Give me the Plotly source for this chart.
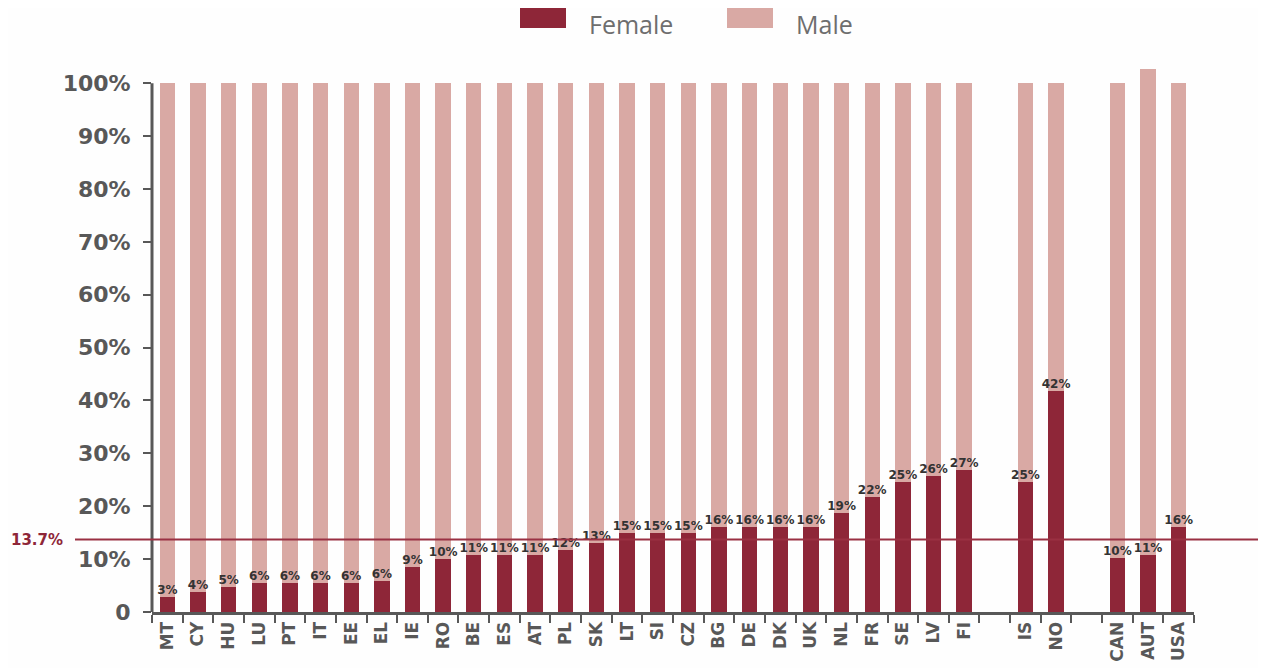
import plotly.graph_objects as go

# ---- data ----
countries = ["MT", "CY", "HU", "LU", "PT", "IT", "EE", "EL", "IE", "RO", "BE", "ES", "AT",
             "PL", "SK", "LT", "SI", "CZ", "BG", "DE", "DK", "UK", "NL", "FR", "SE", "LV", "FI",
             " ", "IS", "NO", "  ", "CAN", "AUT", "USA"]
female = [2.8, 3.8, 4.7, 5.5, 5.5, 5.5, 5.5, 5.8, 8.6, 10.0, 10.8, 10.8, 10.8,
          11.8, 13.0, 15.0, 15.0, 15.0, 16.0, 16.0, 16.0, 16.0, 18.8, 21.8, 24.6, 25.8, 26.8,
          None, 24.6, 41.8, None, 10.2, 10.8, 16.0]
male = [97.2, 96.2, 95.3, 94.5, 94.5, 94.5, 94.5, 94.2, 91.4, 90.0, 89.2, 89.2, 89.2,
        88.2, 87.0, 85.0, 85.0, 85.0, 84.0, 84.0, 84.0, 84.0, 81.2, 78.2, 75.4, 74.2, 73.2,
        None, 75.4, 58.2, None, 89.8, 91.8, 84.0]
female_labels = ["3%", "4%", "5%", "6%", "6%", "6%", "6%", "6%", "9%", "10%", "11%", "11%", "11%",
                 "12%", "13%", "15%", "15%", "15%", "16%", "16%", "16%", "16%", "19%", "22%", "25%", "26%", "27%",
                 "", "25%", "42%", "", "10%", "11%", "16%"]
average = 13.7
y_ticks = [0, 10, 20, 30, 40, 50, 60, 70, 80, 90, 100]
y_tick_labels = ["0", "10%", "20%", "30%", "40%", "50%", "60%", "70%", "80%", "90%", "100%"]

FEMALE_C = "#8E2638"
MALE_C = "#D9A9A4"
AXIS_C = "#585858"

fig = go.Figure()
fig.add_trace(go.Bar(x=countries, y=female, name="Female", marker_color=FEMALE_C,
                     marker_line_width=0, showlegend=False))
fig.add_trace(go.Bar(x=countries, y=male, name="Male", marker_color=MALE_C,
                     marker_line_width=0, showlegend=False))
fig.add_trace(go.Scatter(x=countries, y=female, mode="text", text=female_labels,
                         textposition="top center",
                         textfont=dict(family="DejaVu Sans", size=12, color="#333333", weight="bold"),
                         showlegend=False, hoverinfo="skip", cliponaxis=False))

# page has an 8px body margin
OFF = 8
W, H = 1258, 660
L, R, T, B = 144, 72, 54, 56
pw = W - L - R
ph = H - T - B

def px(x):
    return (x - OFF - L) / pw

def py(y):
    return (H - B - (y - OFF)) / ph

shapes = [
    # y axis line 0..100
    dict(type="line", xref="paper", yref="y", x0=0, x1=0, y0=0, y1=100,
         line=dict(color=AXIS_C, width=3)),
    # average line
    dict(type="line", xref="paper", yref="y", x0=px(75), x1=px(1266), y0=average, y1=average,
         line=dict(color="#9A3042", width=2), layer="above"),
    # legend swatches
    dict(type="rect", xref="paper", yref="paper", x0=px(520), x1=px(566), y0=py(28), y1=py(8),
         fillcolor=FEMALE_C, line_width=0),
    dict(type="rect", xref="paper", yref="paper", x0=px(727), x1=px(773), y0=py(28), y1=py(8),
         fillcolor=MALE_C, line_width=0),
]

annotations = [
    dict(xref="paper", yref="y", x=px(9), y=average, text="13.7%", showarrow=False,
         xanchor="left", yanchor="middle",
         font=dict(family="DejaVu Sans", size=15, color=FEMALE_C, weight="bold")),
    dict(xref="paper", yref="paper", x=px(587), y=py(24), text="Female", showarrow=False,
         xanchor="left", yanchor="middle",
         font=dict(family="Open Sans", size=25, color="#6E6E6E")),
    dict(xref="paper", yref="paper", x=px(794), y=py(24), text="Male", showarrow=False,
         xanchor="left", yanchor="middle",
         font=dict(family="Open Sans", size=25, color="#6E6E6E")),
]

fig.update_layout(
    width=W, height=H,
    margin=dict(l=L, r=R, t=T, b=B, pad=0, autoexpand=False),
    barmode="stack", bargap=0.5,
    paper_bgcolor="#FEFEFE", plot_bgcolor="#FEFEFE",
    shapes=shapes, annotations=annotations,
    showlegend=False,
    xaxis=dict(type="category", categoryorder="array", categoryarray=countries,
               range=[-0.5, len(countries) - 0.5], tickson="boundaries",
               automargin=False,
               showline=True, linecolor=AXIS_C, linewidth=3,
               ticks="outside", ticklen=8, tickwidth=2, tickcolor=AXIS_C,
               tickangle=-90, showgrid=False, zeroline=False,
               tickfont=dict(family="DejaVu Sans", size=17, color=AXIS_C, weight="bold")),
    yaxis=dict(range=[0, 104], tickvals=y_ticks, ticktext=y_tick_labels,
               automargin=False,
               showline=False, showgrid=False, zeroline=False,
               ticks="outside", ticklen=8, tickwidth=2, tickcolor=AXIS_C,
               ticklabelstandoff=8,
               tickfont=dict(family="DejaVu Sans", size=22, color=AXIS_C, weight="bold")),
)

fig.write_html("out.html")
